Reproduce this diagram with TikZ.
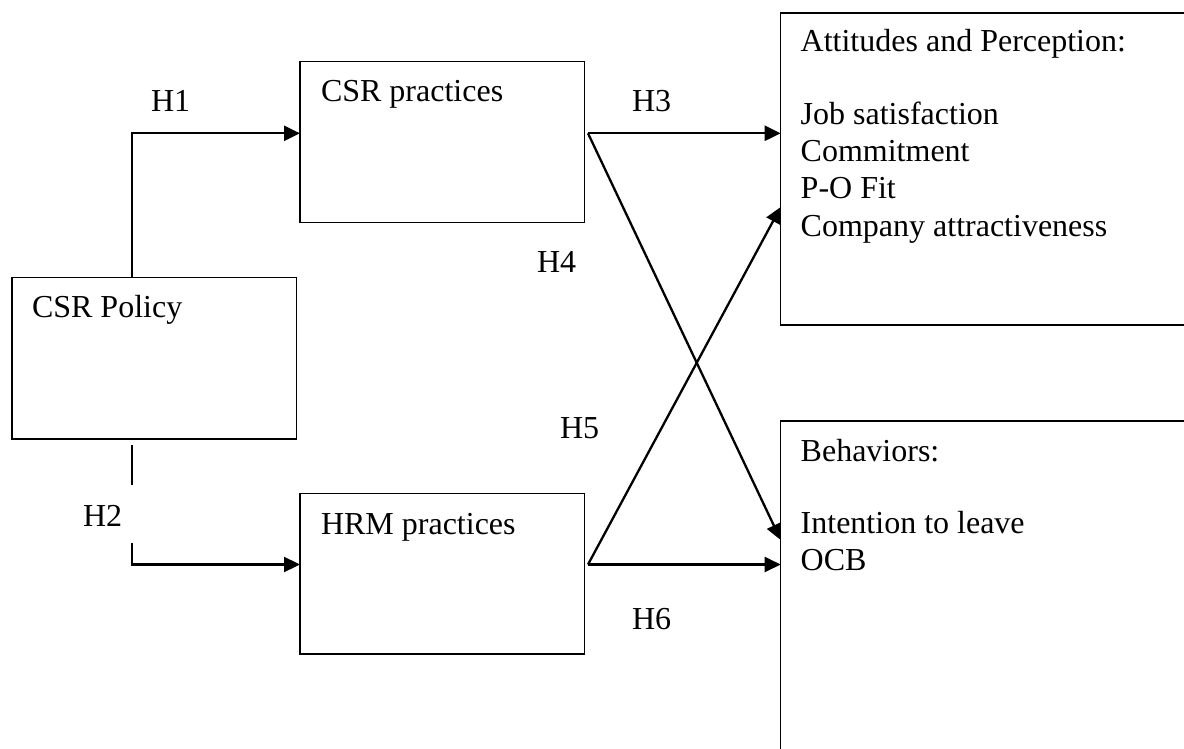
\documentclass[tikz,border=0pt]{standalone}
\usepackage{fontspec}
\setmainfont{Liberation Serif}
\usetikzlibrary{arrows.meta}
\begin{document}
\begin{tikzpicture}[x=1pt,y=-1pt,
  box/.style={draw=black,line width=1.4pt,rectangle,inner sep=0pt,outer sep=0pt,anchor=north west},
  lbl/.style={inner sep=0pt,outer sep=0pt,anchor=base west,font=\fontsize{32}{36.8}\selectfont},
  conn/.style={line width=2.3pt},
  arr/.style={line width=2.3pt,-{Triangle[length=16pt,width=15pt]}}]
\useasboundingbox (0,0) rectangle (1184,749);
\fill[white] (0,0) rectangle (1184,749);
\clip (0,0) rectangle (1184,749);
% boxes
\node[box,minimum width=284.7pt,minimum height=161.7pt] (pol) at (12,277.3) {};
\node[box,minimum width=284.3pt,minimum height=161pt] (prac) at (300,61.7) {};
\node[box,minimum width=284.3pt,minimum height=160.7pt] (hrm) at (300,493.3) {};
\node[box,minimum width=440pt,minimum height=312pt] (att) at (780.7,13) {};
\node[box,minimum width=440pt,minimum height=360pt] (beh) at (780.7,421) {};
% box texts
\node[lbl] (tpol) at (32,317) {CSR Policy};
\node[lbl] (tprac) at (321,101.7) {CSR practices};
\node[lbl] (thrm) at (321,534) {HRM practices};
\node[lbl] (tatt) at (800.7,52) {Attitudes and Perception:};
\node[lbl] (tjob) at (800.7,125) {Job satisfaction};
\node[lbl] (tcom) at (800.7,162) {Commitment};
\node[lbl] (tpo) at (800.7,199) {P-O Fit};
\node[lbl] (tcat) at (800.7,236) {Company attractiveness};
\node[lbl] (tbeh) at (800.7,461) {Behaviors:};
\node[lbl] (tint) at (800.7,533) {Intention to leave};
\node[lbl] (tocb) at (800.7,570) {OCB};
% hypothesis labels
\node[lbl] (h1) at (151,111.7) {H1};
\node[lbl] (h2) at (83,526) {H2};
\node[lbl] (h3) at (632,112) {H3};
\node[lbl] (h4) at (537,272) {H4};
\node[lbl] (h5) at (560,438) {H5};
\node[lbl] (h6) at (632,629) {H6};
% coordinates
\coordinate (s1) at (588,133.3);
\coordinate (s2) at (588,564.5);
\coordinate (a1) at (780.7,207);
\coordinate (b1) at (780.7,540);
% H1
\draw[arr] (pol.north west -| 132.3,0) |- (prac.west |- s1);
% H2
\draw[conn] (132.3,445) coordinate (h2a) -- (132.3,485) coordinate (h2b);
\draw[arr] (132.3,543) coordinate (h2c) |- (hrm.west |- s2);
% H3-H6
\draw[arr] (s1) -- (att.west |- s1);
\draw[arr] (s1) -- (b1);
\draw[arr] (s2) -- (a1);
\draw[arr] (s2) -- (beh.west |- s2);
\end{tikzpicture}
\end{document}
